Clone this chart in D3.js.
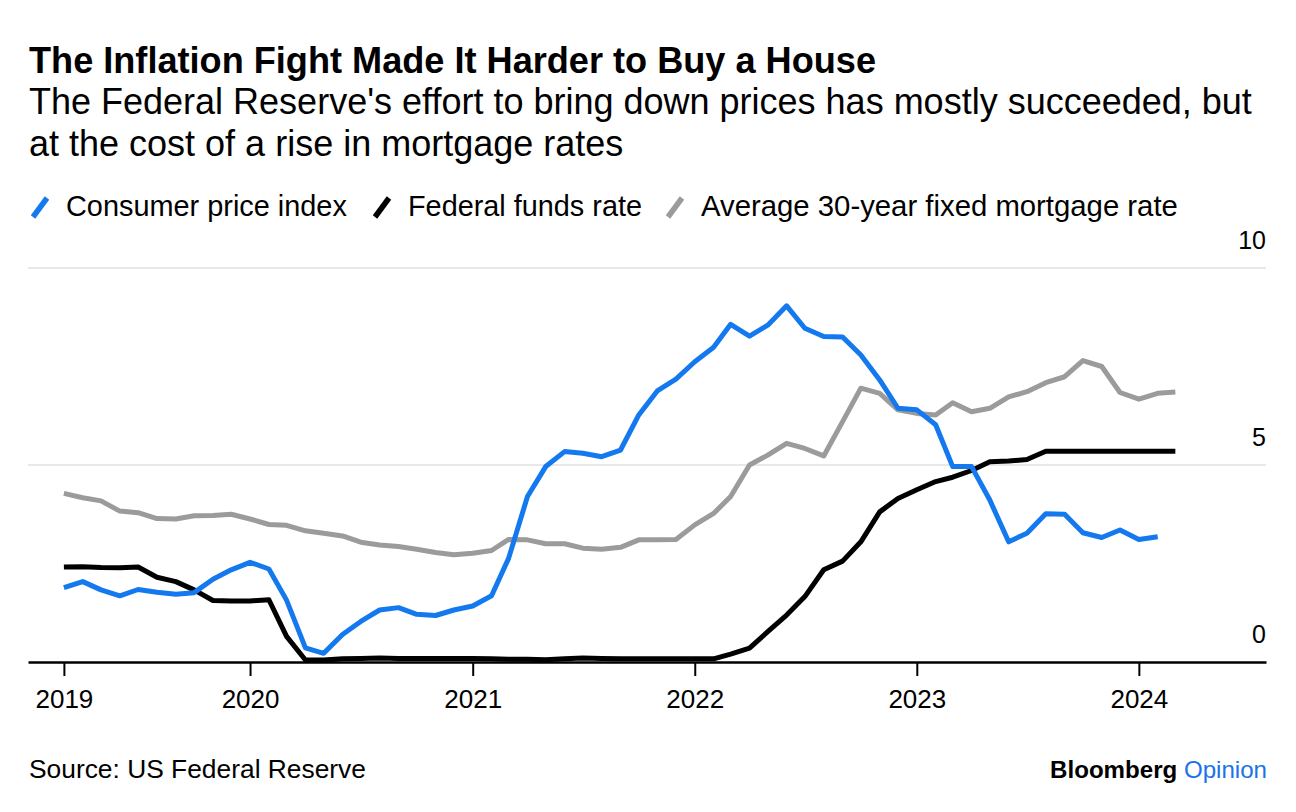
<!DOCTYPE html>
<html>
<head>
<meta charset="utf-8">
<script src="https://cdn.jsdelivr.net/npm/d3@7"></script>
<style>
  html, body { margin: 0; padding: 0; background: #fff; }
  svg { display: block; font-family: "Liberation Sans", Arial, sans-serif; }
</style>
</head>
<body>
<svg id="chart" width="1296" height="812"></svg>
<script>
// ---------------- DATA ----------------
const startMonth = "2019-03";              // first monthly observation
const yearTickLabels = ["2019", "2020", "2021", "2022", "2023", "2024"];
const yTickValues = [0, 5, 10];

// Consumer price index, year-over-year % (Mar 2019 – Feb 2024)
const cpi = [
  1.89, 2.04, 1.83, 1.68, 1.84, 1.77, 1.72, 1.76, 2.10, 2.34,
  2.53, 2.36, 1.57, 0.36, 0.22, 0.70, 1.03, 1.32, 1.38, 1.21, 1.18, 1.32,
  1.42, 1.68, 2.63, 4.20, 4.96, 5.34, 5.30, 5.21, 5.38, 6.27, 6.89, 7.18,
  7.62, 7.99, 8.57, 8.27, 8.55, 9.04, 8.47, 8.26, 8.25, 7.79, 7.16, 6.44,
  6.40, 6.02, 4.96, 4.96, 4.11, 3.05, 3.27, 3.76, 3.75, 3.28, 3.16, 3.35,
  3.11, 3.18
];
// Effective federal funds rate, % (Mar 2019 – Mar 2024)
const fedFunds = [
  2.41, 2.42, 2.40, 2.39, 2.41, 2.15, 2.04, 1.83, 1.56, 1.55,
  1.55, 1.58, 0.65, 0.05, 0.05, 0.08, 0.09, 0.10, 0.09, 0.09, 0.09, 0.09,
  0.09, 0.08, 0.07, 0.07, 0.06, 0.08, 0.10, 0.09, 0.08, 0.08, 0.08, 0.08,
  0.08, 0.08, 0.20, 0.35, 0.77, 1.19, 1.66, 2.34, 2.56, 3.05, 3.81, 4.15,
  4.37, 4.58, 4.69, 4.86, 5.08, 5.10, 5.14, 5.35, 5.35, 5.35, 5.35, 5.35,
  5.35, 5.35, 5.35
];
// Average 30-year fixed mortgage rate, % (Mar 2019 – Mar 2024)
const mortgage = [
  4.28, 4.17, 4.09, 3.83, 3.79, 3.64, 3.63, 3.71, 3.72, 3.75,
  3.63, 3.49, 3.47, 3.33, 3.27, 3.20, 3.04, 2.97, 2.93, 2.86, 2.78, 2.72,
  2.76, 2.83, 3.11, 3.10, 3.00, 3.00, 2.89, 2.86, 2.91, 3.10, 3.10, 3.11,
  3.48, 3.77, 4.20, 5.00, 5.25, 5.55, 5.42, 5.23, 6.10, 6.95, 6.82, 6.40,
  6.31, 6.27, 6.58, 6.35, 6.44, 6.73, 6.86, 7.09, 7.24, 7.65, 7.50, 6.84,
  6.67, 6.82, 6.85
];
const seriesNames = ["Consumer price index", "Federal funds rate", "Average 30-year fixed mortgage rate"];
const seriesColors = ["#1479ef", "#000000", "#9b9b9b"];

// ---------------- SETUP ----------------
const svg = d3.select("#chart");
const parseMonth = d3.timeParse("%Y-%m");
const t0 = parseMonth(startMonth);
const monthDate = i => d3.timeMonth.offset(t0, i);

const x = d3.scaleTime()
  .domain([new Date(2019, 0, 1), new Date(2024, 6, 28)])
  .range([28, 1266]);
const y = d3.scaleLinear().domain([0, 10]).range([662, 268]);

function fit(sel, w) {
  const n = sel.node();
  const fs = parseFloat(sel.attr("font-size"));
  const len = n.getComputedTextLength();
  sel.attr("font-size", (fs * w / len).toFixed(2));
}

// ---------------- HEADER ----------------
svg.append("text").attr("x", 29).attr("y", 73)
  .attr("font-size", 30).attr("font-weight", 700).attr("fill", "#000")
  .text("The Inflation Fight Made It Harder to Buy a House").call(fit, 847);
const sub1 = svg.append("text").attr("x", 29).attr("y", 114)
  .attr("font-size", 27).attr("fill", "#000")
  .text("The Federal Reserve's effort to bring down prices has mostly succeeded, but");
sub1.call(fit, 1223);
svg.append("text").attr("x", 29).attr("y", 156)
  .attr("font-size", sub1.attr("font-size")).attr("fill", "#000")
  .text("at the cost of a rise in mortgage rates");

// ---------------- LEGEND ----------------
const legendX = [32, 374, 667];
const legendW = [281, 234, 477];
seriesNames.forEach((name, i) => {
  const g = svg.append("g").attr("transform", `translate(${legendX[i]},207)`);
  g.append("line").attr("x1", 1).attr("y1", 10).attr("x2", 15).attr("y2", -9)
    .attr("stroke", seriesColors[i]).attr("stroke-width", 5.5);
  g.append("text").attr("x", 34).attr("y", 9)
    .attr("font-size", 24).attr("fill", "#000").text(name).call(fit, legendW[i]);
});

// ---------------- AXES ----------------
const plot = svg.append("g");
// gridlines
plot.selectAll("line.grid").data(yTickValues.filter(v => v > 0)).join("line")
  .attr("class", "grid")
  .attr("x1", 28).attr("x2", 1266)
  .attr("y1", d => y(d)).attr("y2", d => y(d))
  .attr("stroke", "#e8e8e8").attr("stroke-width", 2);
// y labels
plot.selectAll("text.ylab").data(yTickValues).join("text")
  .attr("class", "ylab")
  .attr("x", 1266).attr("y", d => y(d) - 19)
  .attr("text-anchor", "end").attr("font-size", 25).attr("fill", "#000")
  .text(d => d);

// x axis
const xTicks = [monthDate(0)].concat(yearTickLabels.slice(1).map(s => new Date(+s, 0, 1)));
const xAxis = d3.axisBottom(x).tickValues(xTicks).tickSize(14).tickSizeOuter(0).tickPadding(14)
  .tickFormat((d, i) => yearTickLabels[i]);

// ---------------- LINES ----------------
const line = d3.line().x((d, i) => x(monthDate(i))).y(d => y(d)).curve(d3.curveLinear);
const drawOrder = [2, 1, 0];
const allSeries = [cpi, fedFunds, mortgage];
drawOrder.forEach(k => {
  plot.append("path").datum(allSeries[k])
    .attr("d", line).attr("fill", "none")
    .attr("stroke", seriesColors[k]).attr("stroke-width", 5)
    .attr("stroke-linejoin", "round").attr("stroke-linecap", "butt");
});

const ax = svg.append("g").attr("transform", `translate(0,${y(0)})`).call(xAxis);
ax.select(".domain").attr("stroke", "#000").attr("stroke-width", 2.5);
ax.selectAll(".tick line").attr("stroke", "#000").attr("stroke-width", 2);
ax.selectAll(".tick text").attr("font-size", 26).attr("fill", "#000")
  .attr("font-family", "Liberation Sans, Arial, sans-serif");

// ---------------- FOOTER ----------------
svg.append("text").attr("x", 29).attr("y", 778)
  .attr("font-size", 24).attr("fill", "#000")
  .text("Source: US Federal Reserve").call(fit, 337);
const brand = svg.append("text").attr("x", 1267).attr("y", 778)
  .attr("text-anchor", "end").attr("font-size", 24);
brand.append("tspan").attr("font-weight", 700).attr("fill", "#000").text("Bloomberg ");
brand.append("tspan").attr("fill", "#1a73e8").text("Opinion");
brand.call(fit, 217);
</script>
</body>
</html>
